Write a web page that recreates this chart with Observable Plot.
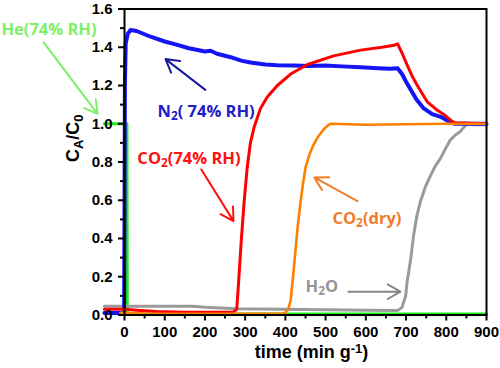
<!DOCTYPE html>
<html>
<head>
<meta charset="utf-8">
<script src="https://cdn.jsdelivr.net/npm/d3@7"></script>
<script src="https://cdn.jsdelivr.net/npm/@observablehq/plot@0.6"></script>
<style>
  html, body { margin: 0; padding: 0; background: #fff; }
  #chart { width: 500px; height: 368px; }
</style>
</head>
<body>
<div id="chart"></div>
<script>
// ---- data (time in min g^-1, C_A/C_0) ----
const heTime  = [-50, 6, 7, 900];
const heValue = [1.0, 1.0, 0.005, 0.005];

const h2oTime  = [-50, 0, 100, 169, 200, 240, 280, 390, 500, 600, 679, 690, 699, 703, 707, 712, 719, 727, 736, 748, 761, 773, 786, 798, 810, 822, 835, 845, 853, 870, 900];
const h2oValue = [0.046, 0.046, 0.046, 0.046, 0.04, 0.036, 0.033, 0.03, 0.027, 0.025, 0.023, 0.04, 0.1, 0.18, 0.23, 0.3, 0.42, 0.52, 0.595, 0.67, 0.73, 0.78, 0.82, 0.87, 0.915, 0.94, 0.96, 0.985, 1.0, 0.995, 0.995];

const n2Time  = [-50, -1, 0, 1, 3, 8, 15, 30, 65, 100, 127, 160, 185, 200, 214, 230, 264, 290, 313, 350, 380, 420, 460, 500, 540, 587, 630, 660, 679, 690, 700, 711, 725, 744, 765, 786, 800, 810, 820, 900];
const n2Value = [0.01, 0.01, 0.5, 1.2, 1.42, 1.47, 1.49, 1.485, 1.455, 1.43, 1.415, 1.395, 1.384, 1.378, 1.382, 1.366, 1.348, 1.33, 1.32, 1.31, 1.306, 1.305, 1.302, 1.305, 1.3, 1.296, 1.29, 1.287, 1.29, 1.26, 1.22, 1.18, 1.13, 1.08, 1.05, 1.036, 1.02, 1.01, 1.0, 1.0];

const co2RhTime  = [-50, 0, 30, 80, 150, 220, 270, 279, 283, 290, 297, 305, 313, 322, 338, 355, 380, 413, 455, 520, 587, 640, 670, 679, 690, 703, 715, 728, 753, 775, 793, 810, 820, 900];
const co2RhValue = [0.03, 0.03, 0.025, 0.018, 0.015, 0.015, 0.015, 0.03, 0.15, 0.38, 0.58, 0.77, 0.9, 0.98, 1.08, 1.14, 1.2, 1.26, 1.31, 1.355, 1.385, 1.4, 1.41, 1.418, 1.37, 1.306, 1.25, 1.2, 1.114, 1.075, 1.05, 1.02, 1.005, 1.0];

const co2DryTime  = [-10, 50, 200, 390, 400, 407, 413, 419, 425, 431, 438, 444, 450, 460, 470, 482, 495, 505, 512, 600, 700, 800, 900];
const co2DryValue = [0.012, 0.008, 0.006, 0.006, 0.012, 0.03, 0.075, 0.2, 0.335, 0.47, 0.595, 0.69, 0.77, 0.84, 0.89, 0.935, 0.97, 0.99, 1.0, 0.995, 0.997, 1.0, 1.0];

const xMajorTicks = [0, 100, 200, 300, 400, 500, 600, 700, 800, 900];
const xMinorTicks = [50, 150, 250, 350, 450, 550, 650, 750, 850];
const yMajorTicks = [0, 0.2, 0.4, 0.6, 0.8, 1.0, 1.2, 1.4, 1.6];
const yMinorTicks = [0.1, 0.3, 0.5, 0.7, 0.9, 1.1, 1.3, 1.5];

// annotations (label text, left anchor in data coordinates)
const labelText  = ["He(74% RH)", "N_{2}( 74% RH)", "CO_{2}(74% RH)", "CO_{2}(dry)", "H_{2}O"];
const labelX     = [-306, 82, 32, 517, 450];
const labelY     = [1.494, 1.062, 0.818, 0.506, 0.148];
const labelColor = ["#7ef068", "#2020c8", "#ff1010", "#f27c28", "#959595"];

const arrowX1 = [-201, 201, 191, 579, 557];
const arrowY1 = [1.426, 1.177, 0.761, 0.595, 0.122];
const arrowX2 = [-67, 102, 271, 472, 686];
const arrowY2 = [1.052, 1.338, 0.491, 0.719, 0.122];
const arrowColor = ["#7ef068", "#1a1aa0", "#ff1010", "#f27c28", "#858585"];

// ---- build tables ----
const series = (t, v) => t.map((d, i) => ({time: d, value: v[i]}));
const he = series(heTime, heValue);
const h2o = series(h2oTime, h2oValue);
const n2 = series(n2Time, n2Value);
const co2Rh = series(co2RhTime, co2RhValue);
const co2Dry = series(co2DryTime, co2DryValue);
const labels = labelText.map((t, i) => ({text: t, x: labelX[i], y: labelY[i], color: labelColor[i]}));
const arrows = arrowX1.map((d, i) => ({x1: d, y1: arrowY1[i], x2: arrowX2[i], y2: arrowY2[i], color: arrowColor[i]}));

const axisFont = "'Liberation Sans', Arial, sans-serif";
const annFont = "'Open Sans', 'Liberation Sans', sans-serif";

const chart = Plot.plot({
  width: 500,
  height: 368,
  marginLeft: 124,
  marginRight: 14,
  marginTop: 8.5,
  marginBottom: 53.5,
  x: {domain: [0, 900]},
  y: {domain: [0, 1.6]},
  style: {fontFamily: axisFont, fontWeight: "bold", fontSize: "15px", background: "white", overflow: "visible", color: "black"},
  marks: [
    Plot.line(he, {x: "time", y: "value", stroke: "#14f014", strokeWidth: 3}),
    Plot.line(h2o, {x: "time", y: "value", stroke: "#9a9a9a", strokeWidth: 3}),
    Plot.line(n2, {x: "time", y: "value", stroke: "#1414f5", strokeWidth: 4}),
    Plot.line(co2Rh, {x: "time", y: "value", stroke: "#ff0000", strokeWidth: 3}),
    Plot.line(co2Dry, {x: "time", y: "value", stroke: "#ff8000", strokeWidth: 2.6}),
    Plot.frame({stroke: "black", strokeWidth: 2}),
    Plot.axisX({ticks: xMajorTicks, tickSize: 6, tickPadding: 5, tickFormat: d => String(d), label: null, strokeWidth: 2}),
    Plot.axisX({ticks: xMinorTicks, tickSize: 4, tickFormat: () => "", label: null, strokeWidth: 2}),
    Plot.axisY({ticks: yMajorTicks, tickSize: 6, tickPadding: 6, tickFormat: d3.format(".1f"), label: null, strokeWidth: 2}),
    Plot.axisY({ticks: yMinorTicks, tickSize: 4, tickFormat: () => "", label: null, strokeWidth: 2}),
    Plot.arrow(arrows, {x1: "x1", y1: "y1", x2: "x2", y2: "y2", stroke: "color", strokeWidth: 2, headLength: 11, bend: 0}),
    Plot.text(labels, {x: "x", y: "y", text: "text", fill: "color", textAnchor: "start", fontFamily: annFont, fontWeight: "bold", fontSize: 16.5}),
    Plot.text(["time (min g^{-1})"], {frameAnchor: "bottom", dx: 6, dy: 43, fontSize: 18, fontWeight: "bold"}),
    Plot.text(["C_{A}/C_{0}"], {frameAnchor: "left", dx: -51, rotate: -90, fontSize: 18, fontWeight: "bold"})
  ]
});

// tick labels: bold 15px
chart.querySelectorAll('g[aria-label$="tick label"]').forEach(g => {
  g.setAttribute("font-size", "15");
  g.style.fontSize = "15px";
  g.style.fontWeight = "bold";
  g.querySelectorAll("text").forEach(t => { t.style.fontSize = "15px"; t.style.fontWeight = "bold"; });
});

// Turn _{..} / ^{..} markup into sub/superscript tspans
function richify(el) {
  const s = el.textContent;
  if (!/[_^]\{/.test(s)) return;
  el.textContent = "";
  const re = /([_^])\{([^}]*)\}/g;
  let last = 0, m;
  const ns = "http://www.w3.org/2000/svg";
  const add = (txt, kind) => {
    const t = document.createElementNS(ns, "tspan");
    t.textContent = txt;
    if (kind) {
      t.setAttribute("baseline-shift", kind === "_" ? "-28%" : "38%");
      t.setAttribute("font-size", "72%");
    }
    el.appendChild(t);
  };
  while ((m = re.exec(s))) {
    if (m.index > last) add(s.slice(last, m.index));
    add(m[2], m[1]);
    last = re.lastIndex;
  }
  if (last < s.length) add(s.slice(last));
}
chart.querySelectorAll("text, tspan").forEach(el => {
  if (el.children.length === 0) richify(el);
});

document.getElementById("chart").appendChild(chart);
</script>
</body>
</html>
